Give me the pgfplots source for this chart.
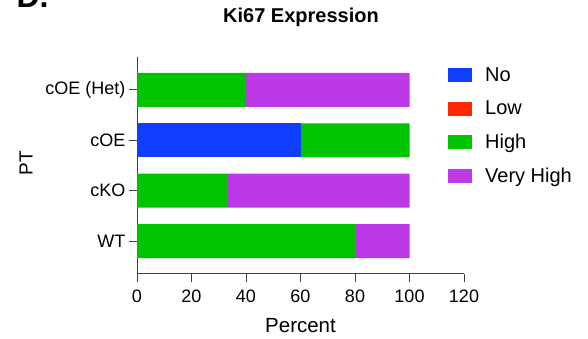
\documentclass[border=0pt]{standalone}
\usepackage{fontspec}
\setmainfont{Liberation Sans}
\usepackage{pgfplots}
\pgfplotsset{compat=1.18}
\definecolor{cNo}{RGB}{16,62,255}
\definecolor{cLow}{RGB}{255,40,0}
\definecolor{cHigh}{RGB}{0,196,0}
\definecolor{cVH}{RGB}{189,56,230}
\pgfplotsset{sq/.style={legend image code/.code={\fill[##1] (0pt,-7pt) rectangle (24pt,7pt);}}}
\begin{document}
\begin{tikzpicture}
\useasboundingbox (0pt,0pt) rectangle (588pt,339pt);
\begin{axis}[
 at={(137pt,65pt)}, anchor=south west,
 scale only axis, width=327pt, height=217pt,
 xbar stacked, bar width=34pt,
 xmin=0, xmax=120, ymin=-0.65, ymax=3.65,
 axis lines=left, axis line style={-, line width=1pt, black!75},
 xtick={0,20,...,120}, ytick={0,1,2,3},
 yticklabels={WT,cKO,cOE,cOE (Het)},
 tick align=outside, major tick length=8pt,
 tick style={line width=1pt, black!75},
 ticklabel style={font=\fontsize{18}{21}\selectfont},
 xticklabel style={yshift=-4pt},
 /pgf/number format/assume math mode=true,
 legend style={at={(rel axis cs:0.951,0.952)}, anchor=north west, draw=none, fill=none,
   inner sep=0pt, row sep=18pt, font=\fontsize{20}{23}\selectfont,
   nodes={inner sep=0pt}, column sep=13pt},
 legend cell align=left,
]
\addplot[fill=cNo, draw=none, sq] coordinates {(0,0) (0,1) (60,2) (0,3)};
\addplot[fill=cLow, draw=none, sq] coordinates {(0,0) (0,1) (0,2) (0,3)};
\addplot[fill=cHigh, draw=none, sq] coordinates {(80,0) (33.33,1) (40,2) (40,3)};
\addplot[fill=cVH, draw=none, sq] coordinates {(20,0) (66.67,1) (0,2) (60,3)};
\legend{No,Low,High,Very High}
\end{axis}
\node[font=\bfseries\fontsize{20}{24}\selectfont] at (301pt,322pt) {Ki67 Expression};
\node[rotate=90, font=\fontsize{19}{22}\selectfont] at (26pt,175.5pt) {PT};
\node[font=\fontsize{20.5}{24}\selectfont] at (300.5pt,13pt) {Percent};
\node[anchor=base west, font=\bfseries\fontsize{32}{36}\selectfont] at (13pt,331pt) {D.};
\end{tikzpicture}
\end{document}
